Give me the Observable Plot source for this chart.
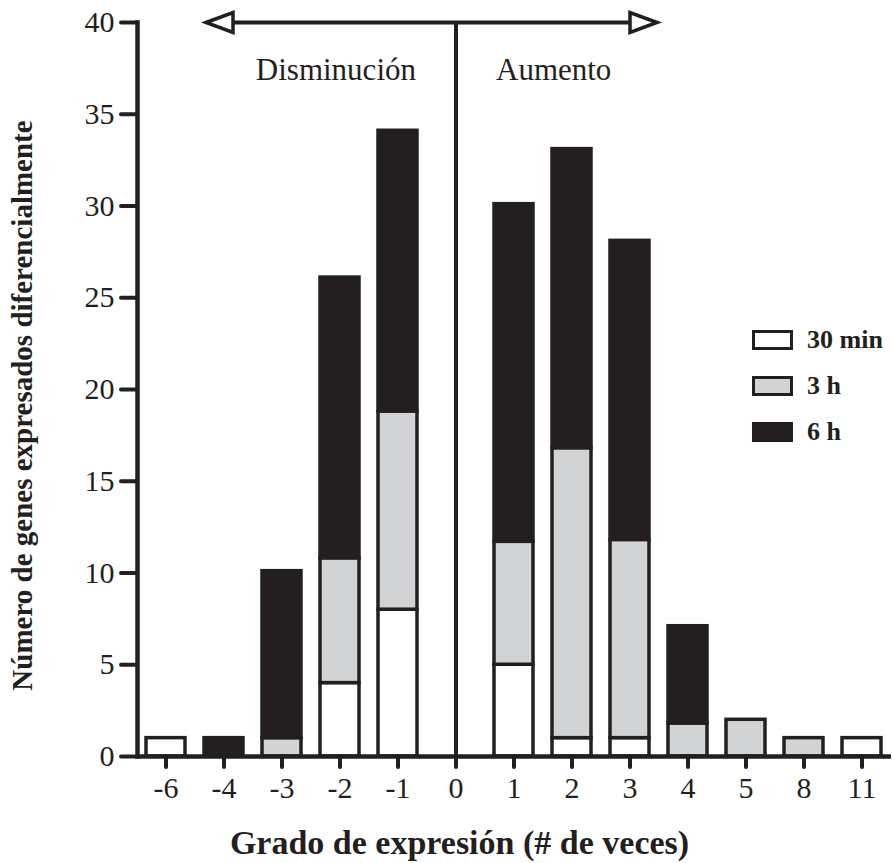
<!DOCTYPE html>
<html><head><meta charset="utf-8">
<script src="https://cdn.jsdelivr.net/npm/d3@7"></script>
<script src="https://cdn.jsdelivr.net/npm/@observablehq/plot@0.6"></script>
<style>
body{margin:0;background:#fff;}
#wrap{position:relative;width:894px;height:863px;font-family:"Liberation Serif","Times New Roman",serif;color:#231f20;}
.legend{position:absolute;left:752px;top:330px;}
.item{display:flex;align-items:center;height:20px;margin-bottom:26px;}
.sw{width:41px;height:20px;box-sizing:border-box;border:3.5px solid #231f20;}
.lab{margin-left:14px;font-weight:bold;font-size:26px;line-height:20px;}
</style></head><body><div id="wrap"></div>
<script>
// ---- data ----
const categories = ["-6","-4","-3","-2","-1","0","1","2","3","4","5","8","11"];
const series = ["30 min","3 h","6 h"];
const min30 = [1,0,0,4,8,0,5,1,1,0,0,0,1];
const h3    = [0,0,1,6.8,10.8,0,6.7,15.8,10.8,1.8,2,1,0];
const h6    = [0,1,9.1,15.3,15.3,0,18.4,16.3,16.3,5.3,0,0,0];
const colors = ["#ffffff","#d1d3d4","#231f20"];
const yTicks = [0,5,10,15,20,25,30,35,40];
const xTitle = "Grado de expresión (# de veces)";
const yTitle = "Número de genes expresados diferencialmente";
const regionLabels = ["Disminución","Aumento"];
const dividerCat = "0";
const arrowEnds = ["-4","3"];
const arrowLevel = 40;
const labelLevel = 37.4;

// ---- build table ----
const seriesValues = [min30, h3, h6];
const rows = [];
categories.forEach((c, i) => {
  series.forEach((s, j) => {
    const v = seriesValues[j][i];
    if (v > 0) rows.push({cat: c, series: s, value: v});
  });
});

const ink = "#231f20";
const leftHead = {draw(ctx){ctx.moveTo(-13.5,0);ctx.lineTo(13.5,-10);ctx.lineTo(13.5,10);ctx.closePath();}};
const rightHead = {draw(ctx){ctx.moveTo(13.5,0);ctx.lineTo(-13.5,-10);ctx.lineTo(-13.5,10);ctx.closePath();}};

const chart = Plot.plot({
  width: 894, height: 863,
  marginLeft: 137, marginRight: 3, marginTop: 22, marginBottom: 107,
  style: {fontFamily: '"Liberation Serif","Times New Roman",serif', fontSize: "30px", color: ink, background: "white", overflow: "visible"},
  x: {type: "band", domain: categories, paddingInner: 0.32, paddingOuter: 0.1235, axis: null},
  y: {domain: [0, 40], axis: null},
  color: {domain: series, range: colors},
  marks: [
    Plot.ruleX([dividerCat], {x: d => d, y1: 0, y2: arrowLevel, stroke: ink, strokeWidth: 4}),
    Plot.barY(rows, {x: "cat", y: "value", fill: "series", stroke: ink, strokeWidth: 3.5}),
    Plot.axisX({tickSize: 11, tickPadding: 9, stroke: ink, strokeWidth: 4, strokeLinecap: "round", label: null, fill: ink, fontSize: 30}),
    Plot.axisY({ticks: yTicks, tickSize: 16, tickPadding: 7, stroke: ink, strokeWidth: 4, strokeLinecap: "round", label: null, fill: ink, fontSize: 30}),
    Plot.ruleY([0], {stroke: ink, strokeWidth: 4.5}),
    Plot.frame({anchor: "left", stroke: ink, strokeWidth: 4.5}),
    Plot.link([arrowEnds], {x1: d => d[0], x2: d => d[1], y1: arrowLevel, y2: arrowLevel, stroke: ink, strokeWidth: 4}),
    Plot.dot([arrowEnds[0]], {x: d => d, y: arrowLevel, symbol: leftHead, fill: "white", stroke: ink, strokeWidth: 3.5, dx: -4.5}),
    Plot.dot([arrowEnds[1]], {x: d => d, y: arrowLevel, symbol: rightHead, fill: "white", stroke: ink, strokeWidth: 3.5, dx: 13.5}),
    Plot.text([regionLabels[0]], {x: () => dividerCat, y: labelLevel, text: d => d, textAnchor: "end", lineAnchor: "middle", dx: -40, fill: ink, fontSize: 31}),
    Plot.text([regionLabels[1]], {x: () => dividerCat, y: labelLevel, text: d => d, textAnchor: "start", lineAnchor: "middle", dx: 40, fill: ink, fontSize: 31}),
    Plot.text([yTitle], {frameAnchor: "left", rotate: -90, dx: -115, dy: 16, text: d => d, textAnchor: "middle", lineAnchor: "middle", fontWeight: "bold", fontSize: 29, fill: ink}),
    Plot.text([xTitle], {frameAnchor: "bottom", dy: 87, dx: -55, text: d => d, textAnchor: "middle", lineAnchor: "middle", fontWeight: "bold", fontSize: 34, fill: ink})
  ]
});

const wrap = document.getElementById("wrap");
wrap.appendChild(chart);
const legend = document.createElement("div");
legend.className = "legend";
series.forEach((s, j) => {
  const item = document.createElement("div");
  item.className = "item";
  const sw = document.createElement("div");
  sw.className = "sw";
  sw.style.background = colors[j];
  const lab = document.createElement("span");
  lab.className = "lab";
  lab.textContent = s;
  item.appendChild(sw); item.appendChild(lab);
  legend.appendChild(item);
});
wrap.appendChild(legend);
</script></body></html>
